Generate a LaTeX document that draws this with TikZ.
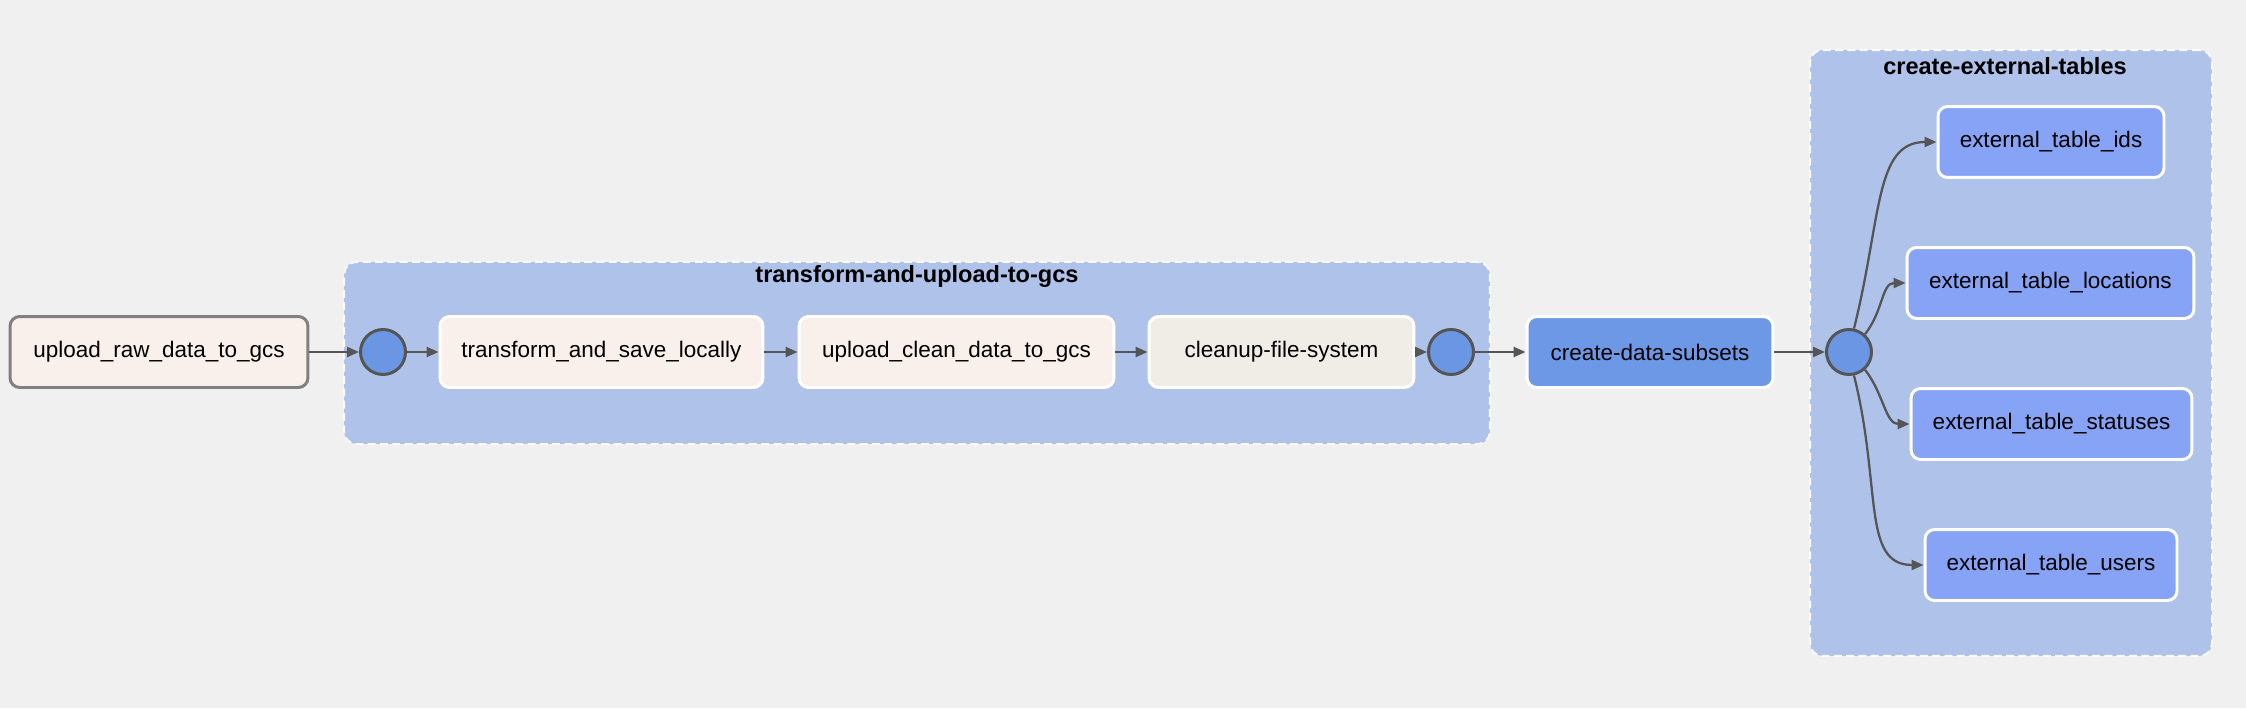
\documentclass[tikz,border=0pt]{standalone}
\usepackage{fontspec}
\setmainfont{Liberation Sans}
\usepackage{xcolor}
\usetikzlibrary{arrows.meta,positioning}
\definecolor{fond}{HTML}{F0F0F0}
\definecolor{groupebleu}{HTML}{AFC3EA}
\definecolor{cerclebleu}{HTML}{6B96E3}
\definecolor{trait}{HTML}{555555}
\definecolor{tachelin}{HTML}{FAF0EB}
\definecolor{tachegris}{HTML}{EFEDE6}
\definecolor{sousbleu}{HTML}{6D98E6}
\definecolor{tablebleu}{HTML}{86A3F6}

\begin{document}
\begin{tikzpicture}[
    x=0.02cm,y=0.02cm,
    groupe/.style = {rectangle,rounded corners=7pt,fill=groupebleu,draw=white!70!fond,
                     dash pattern=on 4.5pt off 2.5pt,line width=1.1pt,inner sep=0pt},
    tache/.style  = {rectangle,rounded corners=5.5pt,draw=white,line width=1.7pt,
                     fill=tachelin,font=\fontsize{12.8}{15}\selectfont,
                     minimum height=1.42cm,inner sep=0pt},
    cercle/.style = {circle,draw=trait,fill=cerclebleu,line width=1.7pt,
                     minimum size=0.9cm,inner sep=0pt},
    titre/.style  = {font=\fontsize{13.4}{16}\selectfont\bfseries},
    fl/.style     = {-{Triangle[length=0.24cm,width=0.2cm]},draw=trait,line width=1.3pt},
  ]

  % ── Fond ────────────────────────────────────────────────────────────────
  \fill[fond] (0,0) rectangle (2246,708);
  \useasboundingbox (0,0) rectangle (2246,708);

  % ── Groupes ─────────────────────────────────────────────────────────────
  \node[groupe,minimum width=22.92cm,minimum height=3.64cm] (g1) at (917,355) {};
  \node[titre] (t1) at (917,432) {transform-and-upload-to-gcs};
  \node[groupe,minimum width=8.04cm,minimum height=12.12cm] (g2) at (2011,355) {};
  \node[titre] (t2) at (2005,642) {create-external-tables};

  % ── Tâches ──────────────────────────────────────────────────────────────
  \node[tache,draw=gray,minimum width=5.96cm] (raw) at (159,356) {upload\_raw\_data\_to\_gcs};
  \node[cercle] (c1) at (383,356) {};
  \node[tache,minimum width=6.46cm] (transform) at (601.5,356) {transform\_and\_save\_locally};
  \node[tache,minimum width=6.3cm] (uploadclean) at (956.5,356) {upload\_clean\_data\_to\_gcs};
  \node[tache,fill=tachegris,minimum width=5.3cm] (cleanup) at (1281.5,356) {cleanup-file-system};
  \node[cercle] (c2) at (1451,356) {};
  \node[tache,fill=sousbleu,minimum width=4.92cm] (subsets) at (1650,356) {create-data-subsets};
  \node[cercle] (c3) at (1849,356) {};

  \node[tache,fill=tablebleu,minimum width=4.52cm] (ids) at (2051,566) {external\_table\_ids};
  \node[tache,fill=tablebleu,minimum width=5.74cm] (locations) at (2050.5,425) {external\_table\_locations};
  \node[tache,fill=tablebleu,minimum width=5.62cm] (statuses) at (2051.5,284) {external\_table\_statuses};
  \node[tache,fill=tablebleu,minimum width=5.04cm] (users) at (2051,143) {external\_table\_users};

  % ── Flux ────────────────────────────────────────────────────────────────
  \draw[fl] (raw) -- (c1);
  \draw[fl] (c1) -- (transform);
  \draw[fl] (transform) -- (uploadclean);
  \draw[fl] (uploadclean) -- (cleanup);
  \draw[fl] (cleanup) -- (c2);
  \draw[fl] (c2) -- (subsets);
  \draw[fl] (subsets) -- (c3);
  \draw[fl] (c3.78) .. controls +(76:115) and +(-62,0) .. (ids.west);
  \draw[fl] (c3.48) .. controls +(52:30) and +(-24,0) .. (locations.west);
  \draw[fl] (c3.-48) .. controls +(-52:30) and +(-24,0) .. (statuses.west);
  \draw[fl] (c3.-78) .. controls +(-76:115) and +(-62,0) .. (users.west);

\end{tikzpicture}
\end{document}
